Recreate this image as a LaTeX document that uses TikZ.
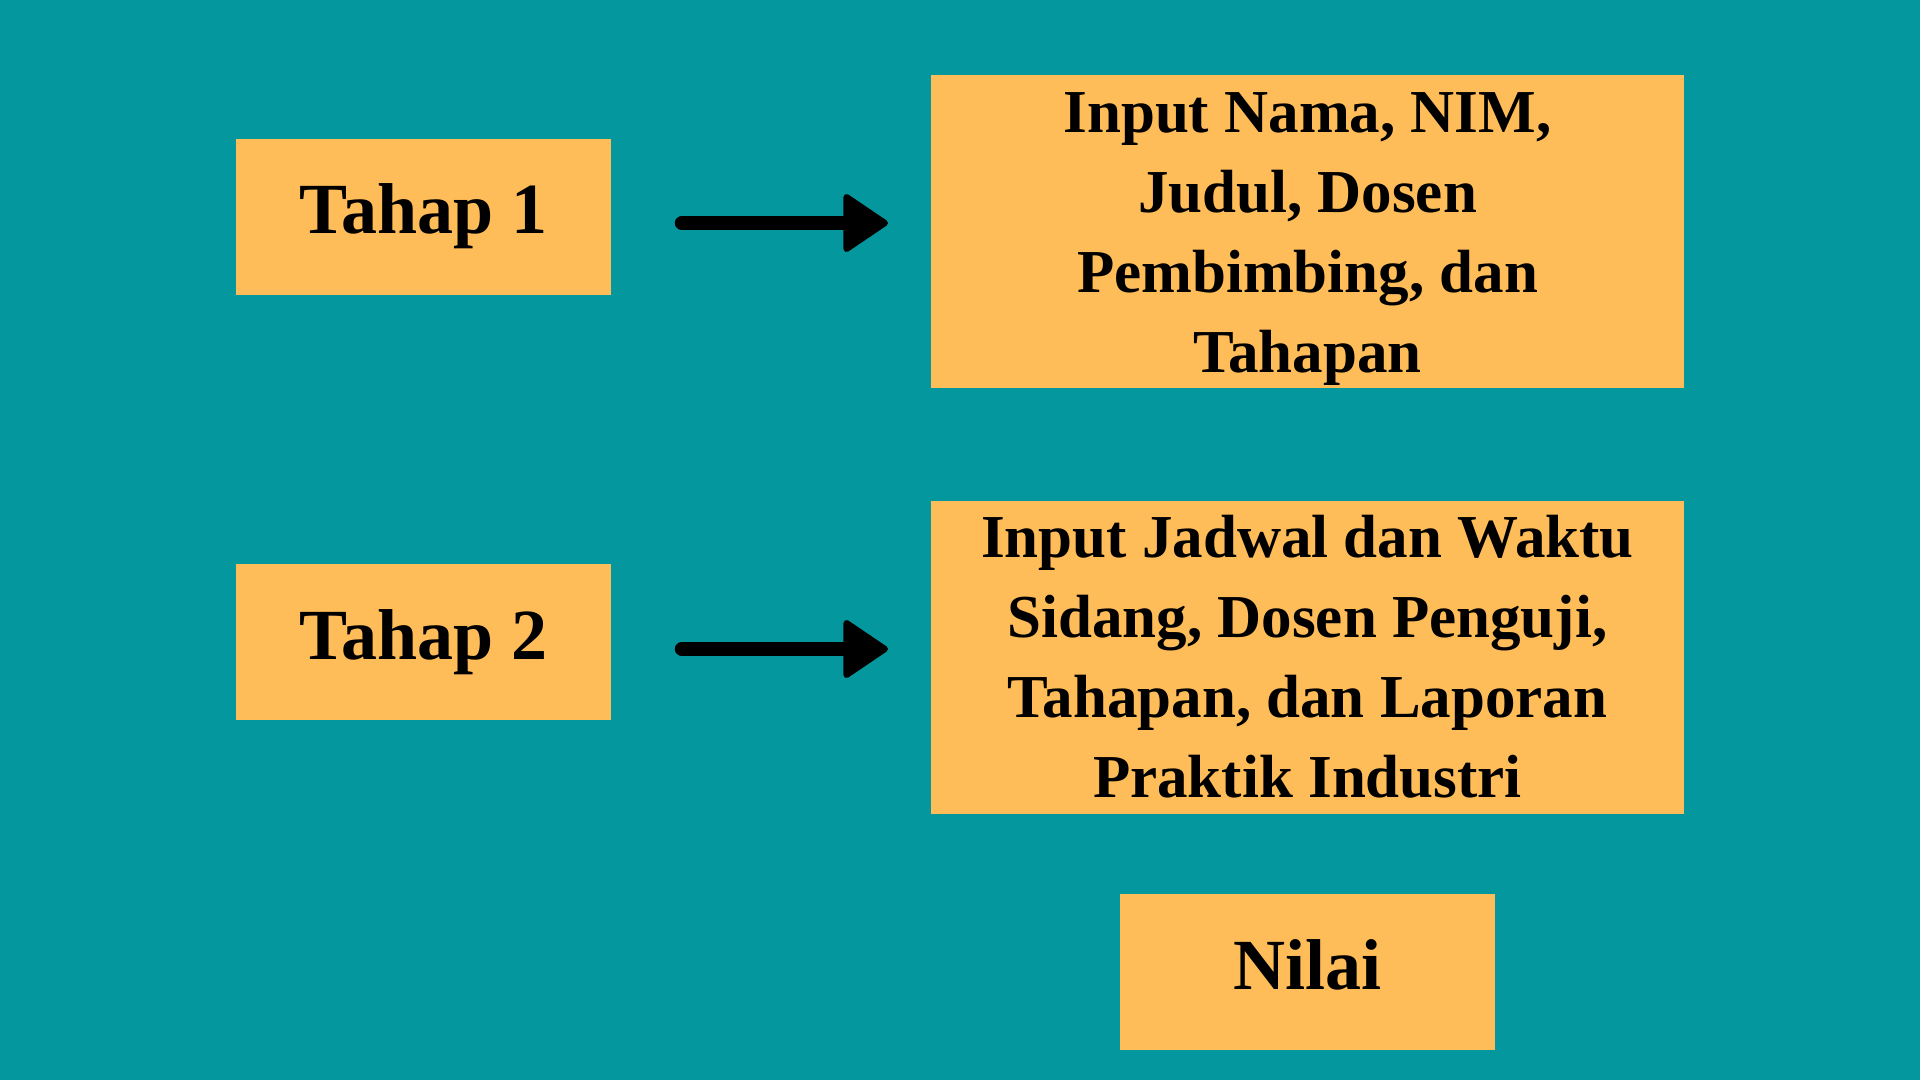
\documentclass[tikz,border=0pt]{standalone}
\usepackage{fontspec}
\setmainfont{Liberation Serif}
\usetikzlibrary{arrows.meta}
\definecolor{bgteal}{RGB}{4,152,158}
\definecolor{boxorange}{RGB}{255,189,89}
\tikzset{
  box/.style={fill=boxorange, draw=none, inner sep=0pt, text=black, align=center},
  bigbox/.style={box, font=\fontsize{61}{80}\selectfont\bfseries, minimum width=753pt, minimum height=313pt},
  smallbox/.style={box, font=\fontsize{72}{86}\selectfont\bfseries, minimum width=375pt, minimum height=156pt, text height=50pt, text depth=16pt},
  conn/.style={line width=14.5pt, line cap=round, draw=black,
    -{Triangle[length=47pt,width=62pt,round,line width=6pt]}}
}
\begin{document}
\begin{tikzpicture}[x=1pt,y=-1pt]
  \useasboundingbox (0,0) rectangle (1920,1080);
  \fill[bgteal] (0,0) rectangle (1920,1080);

  \node[smallbox] (t1) at (423.5,216.5) {Tahap 1};
  \node[bigbox] (a) at (1307.5,231.5) {\rule{0pt}{54pt}Input Nama, NIM,\\Judul, Dosen\\Pembimbing, dan\\Tahapan};
  \node[smallbox] (t2) at (423.5,642) {Tahap 2};
  \node[bigbox] (b) at (1307.5,657) {Input Jadwal dan Waktu\\Sidang, Dosen Penguji,\\Tahapan, dan Laporan\\Praktik Industri};
  \node[smallbox] (n) at (1307.5,972) {Nilai};

  \coordinate (s1) at (682,223);
  \coordinate (e1) at (888,223);
  \coordinate (s2) at (682,649);
  \coordinate (e2) at (888,649);
  \draw[conn] (s1) -- (e1);
  \draw[conn] (s2) -- (e2);
\end{tikzpicture}
\end{document}
